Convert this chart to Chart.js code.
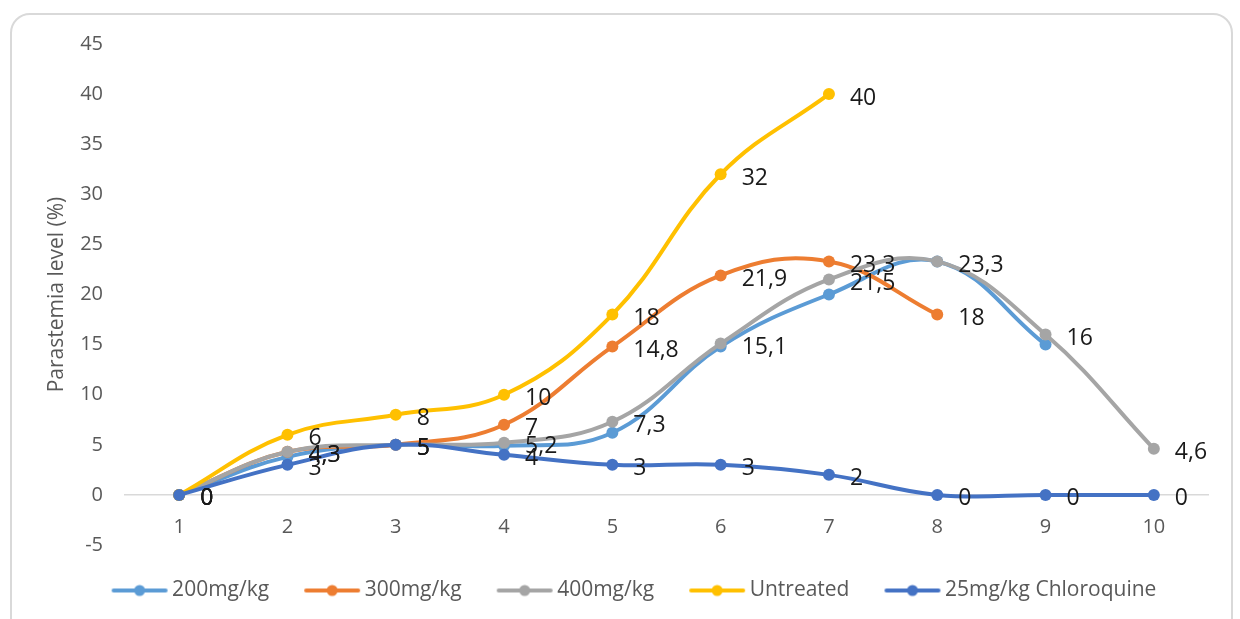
<!DOCTYPE html>
<html lang="en">
<head>
    <meta charset="UTF-8">
    <title>Parastemia level</title>
    <script src="https://cdn.jsdelivr.net/npm/chart.js"></script>
    <style>
        body { margin: 0; background: #fff; }
        #wrap { position: relative; width: 1240px; height: 619px; overflow: hidden; }
        #frame {
            position: absolute; left: 10px; top: 13px; width: 1223px; height: 640px;
            border: 2px solid #d9d9d9; border-radius: 20px; box-sizing: border-box;
        }
        #grafica { position: absolute; left: 0; top: 0; }
    </style>
</head>
<body>
    <div id="wrap">
        <div id="frame"></div>
        <canvas id="grafica" width="1240" height="619"></canvas>
    </div>
    <script>
        var dias = ["1", "2", "3", "4", "5", "6", "7", "8", "9", "10"];
        var dosis200 = [0, 3.8, 5, 4.9, 6.2, 14.8, 20, 23.3, 15, null];
        var dosis300 = [0, 4.3, 5, 7, 14.8, 21.9, 23.3, 18, null, null];
        var dosis400 = [0, 4.3, 5, 5.2, 7.3, 15.1, 21.5, 23.3, 16, 4.6];
        var sinTratar = [0, 6, 8, 10, 18, 32, 40, null, null, null];
        var cloroquina = [0, 3, 5, 4, 3, 3, 2, 0, 0, 0];
        var nombres = ["200mg/kg", "300mg/kg", "400mg/kg", "Untreated", "25mg/kg Chloroquine"];
        var colores = ["#5b9bd5", "#ed7d31", "#a5a5a5", "#ffc000", "#4472c4"];
        var conEtiquetas = [false, true, true, true, true];
        var yMin = -5, yMax = 45, yPaso = 5;

        // marcador de leyenda: linea con punto
        function marcador(color) {
            var c = document.createElement("canvas");
            c.width = 64;
            c.height = 14;
            var g = c.getContext("2d");
            g.strokeStyle = color;
            g.lineWidth = 4;
            g.lineCap = "round";
            g.beginPath();
            g.moveTo(9, 7);
            g.lineTo(61, 7);
            g.stroke();
            g.fillStyle = color;
            g.beginPath();
            g.arc(35, 7, 5.5, 0, Math.PI * 2);
            g.fill();
            return c;
        }
        var marcadores = colores.map(marcador);

        // etiquetas de valores a la derecha de cada punto
        var etiquetas = {
            id: "etiquetas",
            afterDatasetsDraw: function(chart) {
                var ctx = chart.ctx;
                ctx.save();
                ctx.font = '23px "Open Sans"';
                ctx.fillStyle = "#1a1a1a";
                ctx.textAlign = "left";
                ctx.textBaseline = "middle";
                chart.data.datasets.forEach(function(ds, i) {
                    if (!conEtiquetas[i]) return;
                    var meta = chart.getDatasetMeta(i);
                    meta.data.forEach(function(pt, j) {
                        var v = ds.data[j];
                        if (v === null) return;
                        ctx.fillText(String(v).replace(".", ","), pt.x + 21, pt.y + 4);
                    });
                });
                ctx.restore();
            }
        };

        var series = [dosis200, dosis300, dosis400, sinTratar, cloroquina];
        var datasets = series.map(function(d, i) {
            return {
                label: nombres[i],
                data: d,
                borderColor: colores[i],
                backgroundColor: colores[i],
                pointBackgroundColor: colores[i],
                pointBorderColor: colores[i],
                borderWidth: 4,
                pointRadius: 6,
                pointBorderWidth: 0,
                tension: 0.4,
                order: series.length - i
            };
        });

        var ctx = document.getElementById("grafica").getContext("2d");
        var myChart = new Chart(ctx, {
            type: "line",
            data: { labels: dias, datasets: datasets },
            options: {
                responsive: false,
                animation: false,
                layout: { padding: { left: 60, right: 32, top: 44, bottom: 8 } },
                scales: {
                    x: {
                        position: { y: 0 },
                        offset: true,
                        grid: { display: false, drawTicks: false },
                        border: { display: true, color: "#d9d9d9", width: 1.5 },
                        ticks: {
                            color: "#595959",
                            font: { family: "Open Sans", size: 20 },
                            padding: 20,
                            maxRotation: 0
                        }
                    },
                    y: {
                        min: yMin,
                        max: yMax,
                        grid: { display: false, drawTicks: false },
                        border: { display: false },
                        ticks: {
                            stepSize: yPaso,
                            color: "#595959",
                            font: { family: "Open Sans", size: 20 },
                            padding: 22
                        },
                        title: {
                            display: true,
                            text: "Parastemia level (%)",
                            color: "#595959",
                            font: { family: "Open Sans", size: 21 },
                            padding: { top: -16, bottom: 0 }
                        },
                        afterFit: function(scale) { scale.width = 65; }
                    }
                },
                plugins: {
                    tooltip: { enabled: false },
                    legend: {
                        position: "bottom",
                        labels: {
                            usePointStyle: true,
                            pointStyleWidth: 50,
                            padding: 35,
                            color: "#595959",
                            font: { family: "Open Sans", size: 21 },
                            sort: function(a, b) { return a.datasetIndex - b.datasetIndex; },
                            generateLabels: function(chart) {
                                var items = Chart.defaults.plugins.legend.labels.generateLabels(chart);
                                items.forEach(function(it) { it.pointStyle = marcadores[it.datasetIndex]; });
                                return items;
                            }
                        }
                    }
                }
            },
            plugins: [etiquetas]
        });
    </script>
</body>
</html>
